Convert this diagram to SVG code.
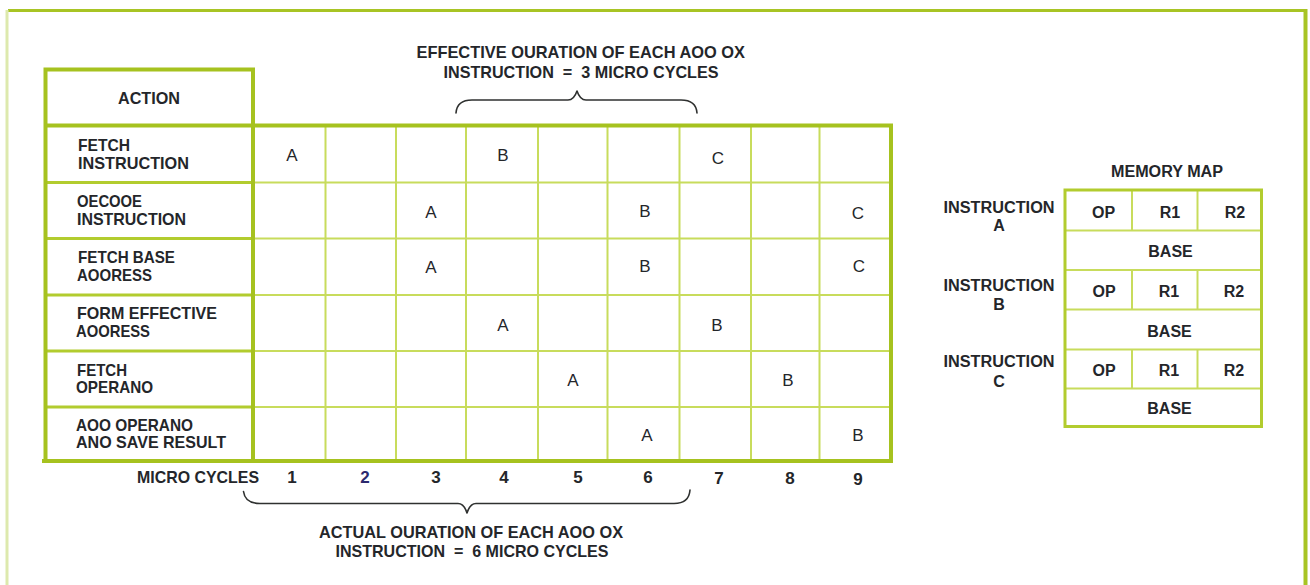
<svg xmlns="http://www.w3.org/2000/svg" width="1310" height="585" viewBox="0 0 1310 585">
<style>
.bg{fill:#ffffff}
.outer{fill:none;stroke:#a6c21f;stroke-width:4}
.mid{fill:none;stroke:#b2cc2e;stroke-width:3}
.inner{fill:none;stroke:#c8dc5c;stroke-width:2}
.lbl{font-family:"Liberation Sans",Arial,sans-serif;font-weight:bold;font-size:17px;fill:#24262a}
.cell{font-family:"Liberation Sans",Arial,sans-serif;font-size:17px;fill:#24262a;text-anchor:middle}
.num{font-family:"Liberation Sans",Arial,sans-serif;font-weight:bold;font-size:17px;fill:#24262a;text-anchor:middle}
.mm{font-family:"Liberation Sans",Arial,sans-serif;font-weight:bold;font-size:16px;fill:#24262a;text-anchor:middle}
.brace{fill:none;stroke:#2f3130;stroke-width:1.6;stroke-linejoin:round;stroke-linecap:round}
</style>
<rect class="bg" x="0" y="0" width="1310" height="585"/>
<g id="frame">
<line x1="8" y1="10.5" x2="1307" y2="10.5" stroke="#a8c424" stroke-width="3"/>
<line x1="1305.5" y1="9" x2="1305.5" y2="585" stroke="#a8c424" stroke-width="4"/>
<line x1="7" y1="10" x2="7" y2="585" stroke="#dde9ad" stroke-width="3"/>
</g>
<g id="action-table">
<g id="grid-lines">
<line class="inner" x1="325.5" y1="125" x2="325.5" y2="461"/>
<line class="inner" x1="396" y1="125" x2="396" y2="461"/>
<line class="inner" x1="466" y1="125" x2="466" y2="461"/>
<line class="inner" x1="538" y1="125" x2="538" y2="461"/>
<line class="inner" x1="607.5" y1="125" x2="607.5" y2="461"/>
<line class="inner" x1="679.5" y1="125" x2="679.5" y2="461"/>
<line class="inner" x1="751" y1="125" x2="751" y2="461"/>
<line class="inner" x1="819.5" y1="125" x2="819.5" y2="461"/>
<line class="inner" x1="253" y1="182.5" x2="891" y2="182.5"/>
<line class="inner" x1="253" y1="238.5" x2="891" y2="238.5"/>
<line class="inner" x1="253" y1="295" x2="891" y2="295"/>
<line class="inner" x1="253" y1="351" x2="891" y2="351"/>
<line class="inner" x1="253" y1="407" x2="891" y2="407"/>
<line class="mid" x1="45" y1="182.5" x2="253" y2="182.5"/>
<line class="mid" x1="45" y1="238.5" x2="253" y2="238.5"/>
<line class="mid" x1="45" y1="295" x2="253" y2="295"/>
<line class="mid" x1="45" y1="351" x2="253" y2="351"/>
<line class="mid" x1="45" y1="407" x2="253" y2="407"/>
<path class="outer" d="M45.5 461 V69.5 H253 V461"/>
<path class="outer" d="M45 125.5 H891 V461"/>
<line class="outer" x1="42" y1="461" x2="893" y2="461"/>
</g>
<g id="header-action"><text class="lbl" x="149" y="104" text-anchor="middle" textLength="62" lengthAdjust="spacingAndGlyphs">ACTION</text></g>
<g id="row-fetch-instruction">
<text class="lbl" x="78" y="151" textLength="52" lengthAdjust="spacingAndGlyphs">FETCH</text>
<text class="lbl" x="78" y="169" textLength="111" lengthAdjust="spacingAndGlyphs">INSTRUCTION</text>
<text class="cell" x="292" y="161">A</text>
<text class="cell" x="503" y="161">B</text>
<text class="cell" x="718" y="164">C</text>
</g>
<g id="row-decode-instruction">
<text class="lbl" x="77" y="207" textLength="65" lengthAdjust="spacingAndGlyphs">OECOOE</text>
<text class="lbl" x="77" y="225" textLength="109" lengthAdjust="spacingAndGlyphs">INSTRUCTION</text>
<text class="cell" x="431" y="218">A</text>
<text class="cell" x="645" y="217">B</text>
<text class="cell" x="858" y="219">C</text>
</g>
<g id="row-fetch-base">
<text class="lbl" x="78" y="263" textLength="97" lengthAdjust="spacingAndGlyphs">FETCH BASE</text>
<text class="lbl" x="77" y="281" textLength="75" lengthAdjust="spacingAndGlyphs">AOORESS</text>
<text class="cell" x="431" y="273">A</text>
<text class="cell" x="645" y="272">B</text>
<text class="cell" x="859" y="272">C</text>
</g>
<g id="row-form-effective">
<text class="lbl" x="77" y="319" textLength="140" lengthAdjust="spacingAndGlyphs">FORM EFFECTIVE</text>
<text class="lbl" x="76" y="337" textLength="74" lengthAdjust="spacingAndGlyphs">AOORESS</text>
<text class="cell" x="503" y="331">A</text>
<text class="cell" x="717" y="331">B</text>
</g>
<g id="row-fetch-operand">
<text class="lbl" x="77" y="376" textLength="50" lengthAdjust="spacingAndGlyphs">FETCH</text>
<text class="lbl" x="76" y="393" textLength="77" lengthAdjust="spacingAndGlyphs">OPERANO</text>
<text class="cell" x="573" y="386">A</text>
<text class="cell" x="788" y="386">B</text>
</g>
<g id="row-add-operand">
<text class="lbl" x="76" y="431" textLength="117" lengthAdjust="spacingAndGlyphs">AOO OPERANO</text>
<text class="lbl" x="76" y="448" textLength="150" lengthAdjust="spacingAndGlyphs">ANO SAVE RESULT</text>
<text class="cell" x="647" y="441">A</text>
<text class="cell" x="858" y="441">B</text>
</g>
<g id="micro-cycles">
<text class="lbl" x="137" y="483" textLength="122" lengthAdjust="spacingAndGlyphs">MICRO CYCLES</text>
<text class="num" x="292" y="483">1</text>
<text class="num" x="365" y="483" style="fill:#2c2a6e">2</text>
<text class="num" x="436" y="483">3</text>
<text class="num" x="504" y="483">4</text>
<text class="num" x="578" y="483">5</text>
<text class="num" x="648" y="483">6</text>
<text class="num" x="719" y="484">7</text>
<text class="num" x="790" y="484">8</text>
<text class="num" x="858" y="485">9</text>
</g>
</g>
<g id="effective-note">
<text class="lbl" x="416.5" y="58" textLength="328.5" lengthAdjust="spacingAndGlyphs">EFFECTIVE OURATION OF EACH AOO OX</text>
<text class="lbl" x="443.5" y="77.5" textLength="275" lengthAdjust="spacingAndGlyphs">INSTRUCTION&#160; = &#160;3 MICRO CYCLES</text>
</g>
<g id="actual-note">
<text class="lbl" x="319" y="537.5" textLength="304" lengthAdjust="spacingAndGlyphs">ACTUAL OURATION OF EACH AOO OX</text>
<text class="lbl" x="335.5" y="557" textLength="273" lengthAdjust="spacingAndGlyphs">INSTRUCTION&#160; = &#160;6 MICRO CYCLES</text>
</g>
<g id="memory-map">
<text class="mm" x="1167" y="177" textLength="112" lengthAdjust="spacingAndGlyphs">MEMORY MAP</text>
<g id="memory-grid">
<line class="inner" x1="1065" y1="230.5" x2="1262" y2="230.5"/>
<line class="inner" x1="1065" y1="270" x2="1262" y2="270"/>
<line class="inner" x1="1065" y1="309.5" x2="1262" y2="309.5"/>
<line class="inner" x1="1065" y1="349.5" x2="1262" y2="349.5"/>
<line class="inner" x1="1065" y1="388.5" x2="1262" y2="388.5"/>
<line class="inner" x1="1132" y1="190" x2="1132" y2="230.5"/>
<line class="inner" x1="1197.5" y1="190" x2="1197.5" y2="230.5"/>
<line class="inner" x1="1132" y1="270" x2="1132" y2="309.5"/>
<line class="inner" x1="1197.5" y1="270" x2="1197.5" y2="309.5"/>
<line class="inner" x1="1132" y1="349.5" x2="1132" y2="388.5"/>
<line class="inner" x1="1197.5" y1="349.5" x2="1197.5" y2="388.5"/>
<rect class="mid" x="1065" y="190" width="196.5" height="236.5"/>
</g>
<g id="instruction-a">
<text class="mm" x="999" y="212.5" textLength="111" lengthAdjust="spacingAndGlyphs">INSTRUCTION</text>
<text class="mm" x="999" y="231">A</text>
<text class="mm" x="1103.5" y="218">OP</text>
<text class="mm" x="1170" y="218">R1</text>
<text class="mm" x="1235" y="218">R2</text>
<text class="mm" x="1170.5" y="257">BASE</text>
</g>
<g id="instruction-b">
<text class="mm" x="999" y="290.5" textLength="111" lengthAdjust="spacingAndGlyphs">INSTRUCTION</text>
<text class="mm" x="999" y="310">B</text>
<text class="mm" x="1104" y="297">OP</text>
<text class="mm" x="1169" y="297">R1</text>
<text class="mm" x="1234" y="297">R2</text>
<text class="mm" x="1169.5" y="337">BASE</text>
</g>
<g id="instruction-c">
<text class="mm" x="999" y="367" textLength="111" lengthAdjust="spacingAndGlyphs">INSTRUCTION</text>
<text class="mm" x="999" y="386.5">C</text>
<text class="mm" x="1104" y="376">OP</text>
<text class="mm" x="1169" y="376">R1</text>
<text class="mm" x="1234" y="376">R2</text>
<text class="mm" x="1169.5" y="414">BASE</text>
</g>
</g>
<g id="connectors">
<path class="brace" d="M456 113 Q457 100 472 100 H568 Q574 100 577 91 Q580 100 586 100 H681 Q696 100 697 113"/>
<path class="brace" d="M243.5 491.5 Q245 503.5 260 503.5 H458 Q464 503.5 467 513 Q470 503.5 476 503.5 H674 Q689 503.5 690 490"/>
</g>
</svg>
